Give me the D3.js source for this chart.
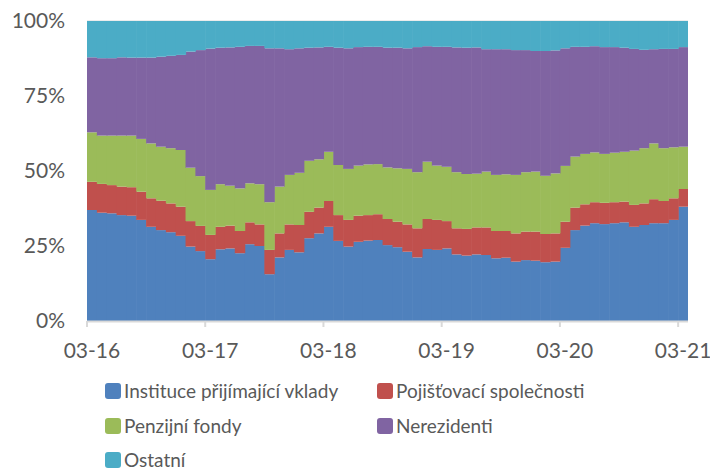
<!DOCTYPE html>
<html>
<head>
<meta charset="utf-8">
<script src="https://cdn.jsdelivr.net/npm/d3@7"></script>
<style>
  body { margin: 0; background: #fff; }
  text { font-family: Lato, "Open Sans", sans-serif; fill: #595959; }
</style>
</head>
<body>
<svg id="chart" width="710" height="470"></svg>
<script>
// months 03-16 .. 03-21
var months = d3.timeMonths(new Date(2016, 2, 1), new Date(2021, 3, 1));
var tickLabels = ['03-16', '03-17', '03-18', '03-19', '03-20', '03-21'];
var yTicks = [0, 25, 50, 75, 100];

var seriesNames = ['Instituce přijímající vklady', 'Pojišťovací společnosti', 'Penzijní fondy', 'Nerezidenti', 'Ostatní'];
var colors = ['#4f81bd', '#c0504d', '#9bbb59', '#8064a2', '#4bacc6'];

// shares in %
var instituce = [37.0, 36.1, 35.9, 35.3, 35.1, 33.7, 31.4, 30.3, 29.6, 28.4, 24.8, 23.3, 20.6, 23.9, 24.2, 22.6,
  25.6, 25.0, 15.6, 21.2, 23.7, 22.9, 27.6, 29.2, 31.4, 26.7, 24.8, 26.4, 26.8, 27.0, 25.3, 24.6,
  23.1, 21.2, 24.0, 23.7, 24.2, 22.2, 21.8, 22.2, 22.0, 20.9, 21.1, 19.8, 20.3, 20.1, 19.6, 19.8,
  24.4, 30.3, 31.8, 32.6, 32.3, 32.6, 32.9, 31.4, 32.0, 32.6, 32.6, 33.7, 38.1];
var pojistovny = [9.4, 9.6, 9.4, 9.5, 9.5, 9.4, 9.5, 9.8, 9.6, 9.7, 8.5, 8.4, 8.1, 7.5, 7.6, 7.4,
  7.3, 7.2, 8.1, 8.0, 8.5, 9.1, 8.8, 8.6, 8.6, 8.6, 8.9, 8.7, 8.5, 8.6, 8.7, 8.5,
  9.1, 9.7, 10.0, 10.0, 9.1, 8.7, 8.9, 9.0, 9.2, 9.1, 8.9, 9.4, 9.5, 9.7, 9.4, 9.4,
  8.7, 7.5, 7.1, 7.0, 7.1, 7.0, 6.9, 7.3, 7.2, 8.0, 7.4, 7.2, 5.9];
var penzijni = [16.5, 16.1, 16.5, 17.0, 17.2, 17.6, 18.3, 18.0, 18.4, 18.9, 17.8, 16.6, 15.0, 14.2, 13.3, 14.2,
  13.0, 13.4, 15.9, 15.6, 16.5, 17.4, 17.0, 16.1, 16.4, 16.7, 17.0, 16.7, 16.9, 16.7, 17.2, 17.8,
  18.5, 18.7, 19.1, 18.1, 18.1, 18.7, 18.3, 17.9, 18.6, 18.7, 18.9, 19.5, 19.8, 20.0, 19.4, 20.0,
  18.6, 17.0, 16.8, 16.6, 16.3, 16.5, 16.6, 18.1, 18.4, 18.6, 17.6, 17.0, 14.1];
var nerezidenti = [25.0, 25.8, 25.8, 26.1, 26.0, 27.1, 28.6, 30.0, 30.8, 31.7, 38.7, 42.0, 47.1, 45.5, 46.1, 47.2,
  45.8, 46.1, 51.3, 46.1, 41.9, 41.5, 37.7, 37.3, 35.0, 39.1, 40.2, 39.5, 39.2, 39.1, 39.9, 40.2,
  40.2, 41.7, 38.5, 39.6, 40.0, 41.6, 42.1, 42.1, 40.8, 41.9, 41.7, 41.6, 40.7, 40.2, 41.6, 41.0,
  39.2, 36.6, 35.7, 35.4, 35.6, 35.2, 34.7, 33.9, 32.8, 31.4, 33.1, 32.8, 33.2];
var ostatni = [12.1, 12.4, 12.4, 12.1, 12.2, 12.2, 12.2, 11.9, 11.6, 11.3, 10.2, 9.7, 9.2, 8.9, 8.8, 8.6,
  8.3, 8.3, 9.1, 9.1, 9.4, 9.1, 8.9, 8.8, 8.6, 8.9, 9.1, 8.7, 8.6, 8.6, 8.9, 8.9,
  9.1, 8.7, 8.4, 8.6, 8.6, 8.8, 8.9, 8.8, 9.4, 9.4, 9.4, 9.7, 9.7, 10.0, 10.0, 9.8,
  9.1, 8.6, 8.6, 8.4, 8.7, 8.7, 8.9, 9.3, 9.6, 9.4, 9.3, 9.3, 8.7];

var seriesValues = [instituce, pojistovny, penzijni, nerezidenti, ostatni];

var data = months.map(function(m, i) {
  var row = { i: i };
  seriesNames.forEach(function(name, k) { row[name] = seriesValues[k][i]; });
  return row;
});

var stacked = d3.stack()
  .keys(seriesNames)
  .offset(d3.stackOffsetExpand)(data);

var svg = d3.select('#chart');

var x = d3.scaleBand()
  .domain(d3.range(months.length))
  .range([87, 688])
  .padding(0);

var y = d3.scaleLinear()
  .domain([0, 1])
  .range([321, 21]);

// top gridline
svg.append('line')
  .attr('x1', 87).attr('x2', 688)
  .attr('y1', y(1)).attr('y2', y(1))
  .attr('stroke', '#d9d9d9')
  .attr('stroke-width', 1);

var layers = svg.append('g')
  .selectAll('g')
  .data(stacked)
  .join('g')
    .attr('fill', function(d, k) { return colors[k]; });

// slight overlap so only faint seams remain between columns
layers.selectAll('rect')
  .data(function(d) { return d; })
  .join('rect')
    .attr('x', function(d) { return x(d.data.i); })
    .attr('width', function(d) { return d.data.i === months.length - 1 ? x.bandwidth() : x.bandwidth() + 0.6; })
    .attr('y', function(d) { return y(d[1]); })
    .attr('height', function(d) { return y(d[0]) - y(d[1]); });

// x axis: tick marks on the month boundary, label centred on the column
var tickIdx = tickLabels.map(function(t, k) { return k * 12; });

var xAxis = d3.axisBottom(x)
  .tickValues(tickIdx)
  .tickFormat(function(d, k) { return tickLabels[k]; })
  .tickSize(6)
  .tickPadding(16);

var gx = svg.append('g')
  .attr('transform', 'translate(0,321)')
  .call(xAxis);
gx.select('.domain').remove();
gx.selectAll('.tick line')
  .attr('transform', 'translate(' + (-x.bandwidth() / 2) + ',0)')
  .attr('stroke', '#d9d9d9')
  .attr('stroke-width', 2);
gx.selectAll('.tick text')
  .attr('font-size', 21)
  .attr('fill', '#595959');

svg.append('line')
  .attr('x1', 87).attr('x2', 688)
  .attr('y1', 321.5).attr('y2', 321.5)
  .attr('stroke', '#d9d9d9')
  .attr('stroke-width', 2);

// y axis
var yAxis = d3.axisLeft(y)
  .tickValues(yTicks.map(function(v) { return v / 100; }))
  .tickFormat(function(d) { return Math.round(d * 100) + '%'; })
  .tickSize(0)
  .tickPadding(22);

var gy = svg.append('g')
  .attr('transform', 'translate(87,0)')
  .call(yAxis);
gy.select('.domain').remove();
gy.selectAll('.tick text')
  .attr('font-size', 21)
  .attr('fill', '#595959');

// legend
var legendPos = [[105, 391], [377, 391], [105, 426], [377, 426], [105, 460]];

var legend = svg.append('g')
  .selectAll('g')
  .data(seriesNames)
  .join('g')
    .attr('transform', function(d, k) { return 'translate(' + legendPos[k][0] + ',' + legendPos[k][1] + ')'; });

legend.append('rect')
  .attr('x', 0).attr('y', -8)
  .attr('width', 16).attr('height', 16)
  .attr('rx', 3)
  .attr('fill', function(d, k) { return colors[k]; });

legend.append('text')
  .attr('x', 19)
  .attr('dy', '0.35em')
  .attr('font-size', 19)
  .text(function(d) { return d; });
</script>
</body>
</html>
